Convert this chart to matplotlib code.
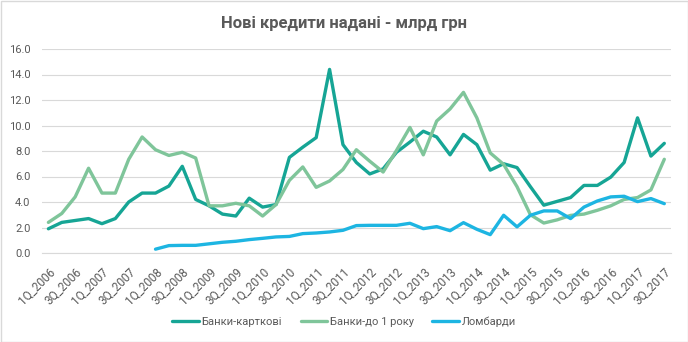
import numpy as np
import matplotlib

matplotlib.use("Agg")
import matplotlib.pyplot as plt
from matplotlib.patches import Rectangle


TITLE = "Нові кредити надані - млрд грн"

YEARS = list(range(2006, 2018))
QUARTERS = ["{}Q_{}".format(q, y) for y in YEARS for q in (1, 2, 3, 4)][:47]

# Банки-карткові
cards = [1.9, 2.4, 2.55, 2.7, 2.3, 2.7, 4.0, 4.7, 4.7, 5.25, 6.8, 4.2,
         3.7, 3.05, 2.9, 4.3, 3.6, 3.8, 7.5, 8.3, 9.05, 14.4, 8.5, 7.1,
         6.2, 6.6, 7.9, 8.7, 9.55, 9.1, 7.7, 9.3, 8.5, 6.5, 7.0, 6.7,
         5.2, 3.75, 4.05, 4.35, 5.3, 5.3, 5.95, 7.1, 10.6, 7.6, 8.6]

# Банки-до 1 року
short_loans = [2.4, 3.1, 4.4, 6.65, 4.7, 4.7, 7.35, 9.1, 8.1, 7.65, 7.9, 7.45,
               3.7, 3.7, 3.9, 3.7, 2.9, 3.8, 5.7, 6.75, 5.15, 5.65, 6.55, 8.1,
               7.2, 6.35, 8.05, 9.85, 7.7, 10.35, 11.3, 12.6, 10.6, 7.85, 6.95, 5.2,
               3.0, 2.35, 2.6, 2.95, 3.05, 3.35, 3.7, 4.2, 4.35, 4.95, 7.35]

# Ломбарди
pawnshops = [None, None, None, None, None, None, None, None, 0.3, 0.58, 0.6, 0.6,
             0.72, 0.84, 0.92, 1.05, 1.15, 1.26, 1.3, 1.52, 1.57, 1.65, 1.78, 2.15,
             2.17, 2.17, 2.17, 2.33, 1.91, 2.07, 1.75, 2.38, 1.86, 1.44, 2.96, 2.05,
             2.96, 3.3, 3.3, 2.7, 3.6, 4.08, 4.4, 4.45, 4.03, 4.27, 3.87]

SERIES = [
    ("Банки-карткові", cards, "#16a595"),
    ("Банки-до 1 року", short_loans, "#7fc59a"),
    ("Ломбарди", pawnshops, "#1db5e2"),
]

TEXT_COLOR = "#595959"
GRID_COLOR = "#d9d9d9"

plt.rcParams["font.family"] = ["Roboto", "DejaVu Sans"]

fig = plt.figure(figsize=(6.88, 3.42), dpi=100)
ax = fig.add_axes([41.7 / 688, 1 - 253 / 342, (671 - 41.7) / 688, (253 - 49) / 342])

x = np.arange(len(QUARTERS))
for name, values, color in SERIES:
    y = np.array([np.nan if v is None else v for v in values], dtype=float)
    ax.plot(x, y, color=color, linewidth=2.4, label=name,
            solid_joinstyle="round", solid_capstyle="round")

ax.set_xlim(-0.5, len(QUARTERS) - 0.5)
ax.set_ylim(0, 16)
ax.set_yticks(np.arange(0, 16.1, 2))
ax.set_yticklabels(["{:.1f}".format(v) for v in np.arange(0, 16.1, 2)])
ax.set_xticks(x[::2])
ax.set_xticklabels(QUARTERS[::2], rotation=45, ha="right", rotation_mode="anchor")

ax.grid(True, axis="y", color=GRID_COLOR, linewidth=0.8)
ax.set_axisbelow(True)
for side in ("top", "right", "left"):
    ax.spines[side].set_visible(False)
ax.spines["bottom"].set_color(GRID_COLOR)
ax.spines["bottom"].set_linewidth(0.8)
ax.tick_params(axis="both", length=0, colors=TEXT_COLOR)
ax.tick_params(axis="y", pad=8, labelsize=8)
ax.tick_params(axis="x", pad=9, labelsize=8.5)

fig.text(0.5, 1 - 23 / 342, TITLE, ha="center", va="center",
         fontsize=12, fontweight="bold", color=TEXT_COLOR)

fig.legend(loc="center", bbox_to_anchor=(0.5, 1 - 322 / 342), ncol=3, frameon=False,
           fontsize=8, labelcolor=TEXT_COLOR, handlelength=2.4, handletextpad=0.2,
           columnspacing=1.7)

fig.patches.append(Rectangle((0.5 / 688, 0.5 / 342), 1 - 1 / 688, 1 - 1 / 342,
                             transform=fig.transFigure, fill=False,
                             edgecolor=GRID_COLOR, linewidth=1))

fig.savefig("out.png", dpi=100)
